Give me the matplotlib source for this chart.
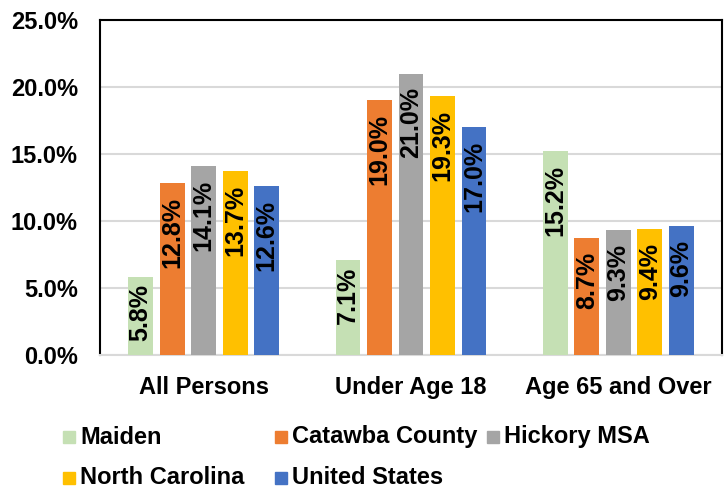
import matplotlib
matplotlib.use("Agg")
import matplotlib.pyplot as plt
import numpy as np
from matplotlib.patches import Rectangle

categories = ["All Persons", "Under Age 18", "Age 65 and Over"]
series = ["Maiden", "Catawba County", "Hickory MSA", "North Carolina", "United States"]
values = {
    "Maiden": [5.8, 7.1, 15.2],
    "Catawba County": [12.8, 19.0, 8.7],
    "Hickory MSA": [14.1, 21.0, 9.3],
    "North Carolina": [13.7, 19.3, 9.4],
    "United States": [12.6, 17.0, 9.6],
}
colors = ["#C5E0B4", "#ED7D31", "#A5A5A5", "#FFC000", "#4472C4"]
yticks = [0, 5, 10, 15, 20, 25]

plt.rcParams['font.family'] = ['Liberation Sans', 'DejaVu Sans']
plt.rcParams['font.weight'] = 'bold'

fig = plt.figure(figsize=(7.28, 4.91), dpi=100)
ax = fig.add_axes([100/728, 1-355/491, 622/728, 335/491])

x = np.arange(len(categories))
w = 0.12
step = 0.152
for i, s in enumerate(series):
    xs = x + (i - 2) * step
    bars = ax.bar(xs, values[s], width=w, color=colors[i], zorder=3)
    for b, v in zip(bars, values[s]):
        off = -10 if v > 8 else -5
        ax.annotate(f"{v:.1f}%", (b.get_x() + b.get_width()/2, v),
                    xytext=(0, off), textcoords="offset points",
                    rotation=90, ha="center", va="top",
                    fontsize=18, fontweight="bold", color="black", zorder=4)

ax.set_xlim(-0.5, 2.5)
ax.set_ylim(0, 25)
ax.set_yticks(yticks)
ax.set_yticklabels([f"{t:.1f}%" for t in yticks], fontsize=17, fontweight="bold")
ax.set_xticks(x)
ax.set_xticklabels(categories, fontsize=17, fontweight="bold")
ax.tick_params(axis="both", length=0)
ax.tick_params(axis="x", pad=15)
ax.tick_params(axis="y", pad=16)
ax.yaxis.grid(True, color="#D9D9D9", linewidth=1.5, zorder=0)
for sp in ["top", "left", "right"]:
    ax.spines[sp].set_color("black")
    ax.spines[sp].set_linewidth(1.5)
ax.spines["bottom"].set_color("#D9D9D9")
ax.spines["bottom"].set_linewidth(1.5)

# Legend (uniform column widths, like the original)
col_x = [63, 275, 487]
row_y = [437, 478]
for i, s in enumerate(series):
    r, c = divmod(i, 3)
    mx, my = col_x[c], row_y[r]
    fig.add_artist(Rectangle((mx/728, 1-(my+6)/491), 12/728, 12/491,
                             transform=fig.transFigure, color=colors[i]))
    fig.text((mx+17)/728, 1-my/491, s, fontsize=17, fontweight="bold",
             va="center", ha="left")

fig.savefig("out.png", dpi=100)
